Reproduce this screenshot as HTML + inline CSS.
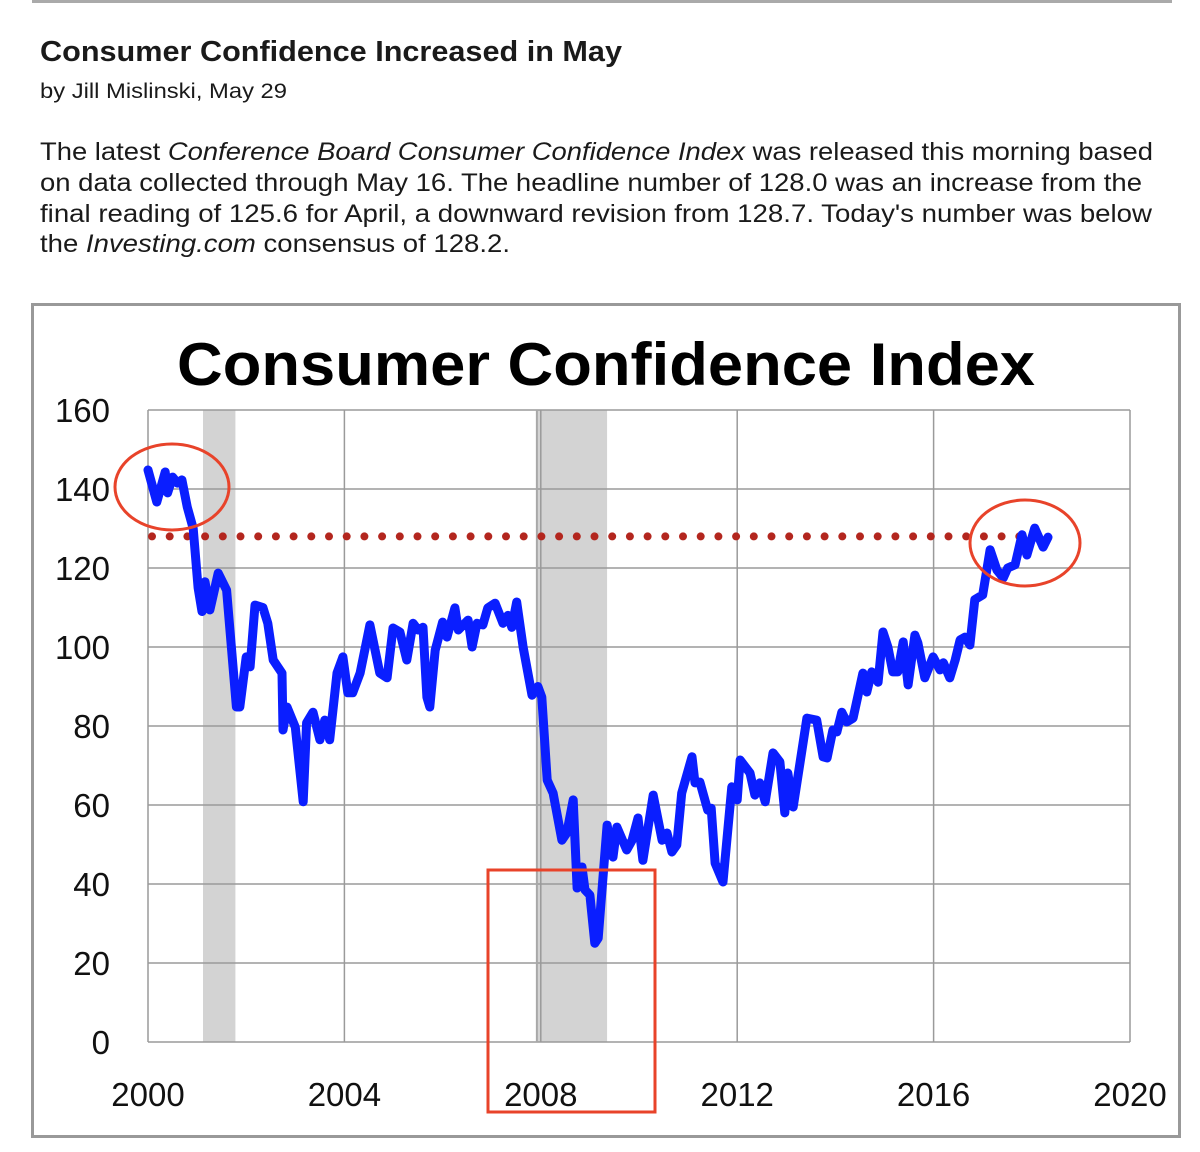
<!DOCTYPE html>
<html><head><meta charset="utf-8">
<style>
html,body{margin:0;padding:0;background:#fff;width:1200px;height:1152px;overflow:hidden}
svg{display:block}
.hd{font-family:"Liberation Sans",Arial,sans-serif;fill:#1a1a1a}
.ax{font-family:"Liberation Sans",Arial,sans-serif;font-size:33px;fill:#111}
</style></head>
<body>
<svg id="page" width="1200" height="1152" viewBox="0 0 1200 1152" xmlns="http://www.w3.org/2000/svg">
  <line x1="32" y1="1.5" x2="1172" y2="1.5" stroke="#aaa" stroke-width="3"/>
  <text class="hd" x="40" y="61" font-size="29" font-weight="bold" textLength="582" lengthAdjust="spacingAndGlyphs">Consumer Confidence Increased in May</text>
  <text class="hd" x="40" y="98" font-size="21" textLength="247" lengthAdjust="spacingAndGlyphs">by Jill Mislinski, May 29</text>
  <g class="hd" font-size="25">
    <text x="40" y="160" textLength="1113" lengthAdjust="spacingAndGlyphs">The latest <tspan font-style="italic">Conference Board Consumer Confidence Index</tspan> was released this morning based</text>
    <text x="40" y="191" textLength="1102" lengthAdjust="spacingAndGlyphs">on data collected through May 16. The headline number of 128.0 was an increase from the</text>
    <text x="40" y="222" textLength="1112" lengthAdjust="spacingAndGlyphs">final reading of 125.6 for April, a downward revision from 128.7. Today's number was below</text>
    <text x="40" y="252" textLength="470" lengthAdjust="spacingAndGlyphs">the <tspan font-style="italic">Investing.com</tspan> consensus of 128.2.</text>
  </g>
  <rect x="32.5" y="304.5" width="1147" height="832" fill="#fff" stroke="#999" stroke-width="3"/>
  <text x="606" y="385" text-anchor="middle" font-family="'Liberation Sans',Arial,sans-serif" font-weight="bold" font-size="60" fill="#000" textLength="858" lengthAdjust="spacingAndGlyphs">Consumer Confidence Index</text>
  <g id="chart"></g>
</svg>
<script>
const years = [2000.0,2000.18,2000.35,2000.4,2000.5,2000.6,2000.69,2000.8,2000.92,2001.02,2001.1,2001.16,2001.26,2001.43,2001.6,2001.8,2001.87,2002.0,2002.08,2002.18,2002.34,2002.44,2002.55,2002.73,2002.75,2002.83,2003.0,2003.16,2003.23,2003.36,2003.5,2003.6,2003.7,2003.85,2003.97,2004.07,2004.17,2004.32,2004.52,2004.72,2004.87,2004.99,2005.13,2005.27,2005.4,2005.5,2005.6,2005.68,2005.74,2005.85,2006.0,2006.09,2006.25,2006.32,2006.52,2006.6,2006.7,2006.82,2006.92,2007.07,2007.23,2007.33,2007.41,2007.51,2007.64,2007.82,2007.94,2008.02,2008.13,2008.25,2008.43,2008.53,2008.66,2008.74,2008.84,2008.9,2009.0,2009.1,2009.17,2009.35,2009.47,2009.55,2009.75,2009.86,2009.98,2010.08,2010.29,2010.47,2010.57,2010.67,2010.77,2010.87,2011.08,2011.14,2011.24,2011.4,2011.47,2011.55,2011.71,2011.89,2012.0,2012.06,2012.26,2012.36,2012.46,2012.57,2012.73,2012.87,2012.97,2013.03,2013.14,2013.42,2013.62,2013.75,2013.83,2013.95,2014.03,2014.13,2014.23,2014.36,2014.56,2014.64,2014.74,2014.87,2014.97,2015.07,2015.17,2015.27,2015.38,2015.48,2015.62,2015.68,2015.82,2015.99,2016.13,2016.2,2016.33,2016.44,2016.54,2016.64,2016.74,2016.84,2017.0,2017.15,2017.29,2017.42,2017.51,2017.66,2017.8,2017.9,2018.06,2018.23,2018.33];
const values = [144.8,136.7,144.3,139,143,141.5,142.3,135.4,130,115,109,116.5,109.4,118.7,114.4,84.8,84.8,97.5,95,110.6,110,106,96.7,93.4,79,84.8,79.7,60.8,80.8,83.5,76.5,81.5,76.5,93.4,97.5,88.4,88.4,93.4,105.6,93.4,92.2,104.8,103.8,96.7,106,104.3,105,87.3,84.8,99.2,106.3,102.5,109.9,104.3,106.8,100,106,105.6,109.9,111.1,106,108,105,111.4,100,87.8,90,87.3,66.3,63,51.1,52.9,61.3,39,44.3,38.5,37.2,25,26.3,54.9,46.8,54.4,48.6,51.1,56.7,46,62.5,51.1,52.9,48.1,49.9,63,72.2,65.6,65.8,58.7,59.2,45.3,40.5,64.6,61.3,71.4,68.1,62.5,65.6,60.8,73.2,70.9,58,68.1,59.5,82,81.5,72.2,71.9,79,78.5,83.5,81,82,93.4,88.6,93.7,91.1,103.8,100,93.7,93.7,101.3,90.4,103,101,92.2,97.5,94.2,96,92.2,96.7,101.8,102.5,100.5,112,113.2,124.6,119.5,117.5,120,120.8,128.4,123.3,130.1,125.3,127.8];
const yTicks = [0,20,40,60,80,100,120,140,160];
const xTicks = [2000,2004,2008,2012,2016,2020];
const recessions = [[2001.12,2001.78],[2007.92,2009.35]];
const refLevel = [128];

const X0=148,X1=1130,Y0=1042,Y1=410;
const xs = y => X0 + (y-2000)/(2020-2000)*(X1-X0);
const ys = v => Y0 - v/160*(Y0-Y1);
const NS='http://www.w3.org/2000/svg';
const g=document.getElementById('chart');
function mk(tag,attrs,parent){const e=document.createElementNS(NS,tag);for(const k in attrs)e.setAttribute(k,attrs[k]);(parent||g).appendChild(e);return e;}

recessions.forEach(r=>{
  const e=mk('rect',{x:xs(r[0]),y:Y1,width:xs(r[1])-xs(r[0]),height:Y0-Y1,fill:'#d3d3d3'});
  
  
});
yTicks.forEach(t=>{
  const l=mk('line',{x1:X0,x2:X1,y1:ys(t),y2:ys(t),stroke:'#9a9a9a','stroke-width':1.5});
  
  
  const tx=mk('text',{x:110,y:ys(t)+12,'text-anchor':'end',class:'ax'});
  tx.textContent=t;
  
  
});
xTicks.forEach(t=>{
  const l=mk('line',{x1:xs(t),x2:xs(t),y1:Y1,y2:Y0,stroke:'#9a9a9a','stroke-width':1.5});
  
  
  const tx=mk('text',{x:xs(t),y:1106,'text-anchor':'middle',class:'ax'});
  tx.textContent=t;
  
  
});
const rl=mk('line',{x1:xs(recessions[1][0]),x2:xs(recessions[1][0]),y1:Y1,y2:Y0,stroke:'#a8a8a8','stroke-width':2});


// dotted reference line
const dots=mk('g',{fill:'#b3261e'});


for(let x=152;x<=1030;x+=17.7){mk('circle',{cx:x,cy:ys(refLevel[0]),r:4},dots);}
// series
const path=mk('path',{d:years.map((y,i)=>(i?'L':'M')+xs(y).toFixed(1)+','+ys(values[i]).toFixed(1)).join(''),fill:'none',stroke:'#0a1eff','stroke-width':9,'stroke-linejoin':'round','stroke-linecap':'round'});


// annotations
const e1=mk('ellipse',{cx:172,cy:487,rx:57,ry:43,fill:'none',stroke:'#e8432a','stroke-width':3});


const e2=mk('ellipse',{cx:1025,cy:543,rx:55,ry:43,fill:'none',stroke:'#e8432a','stroke-width':3});


const rb=mk('rect',{x:488,y:870,width:167,height:242,fill:'none',stroke:'#e8432a','stroke-width':3});


</script>
</body></html>
